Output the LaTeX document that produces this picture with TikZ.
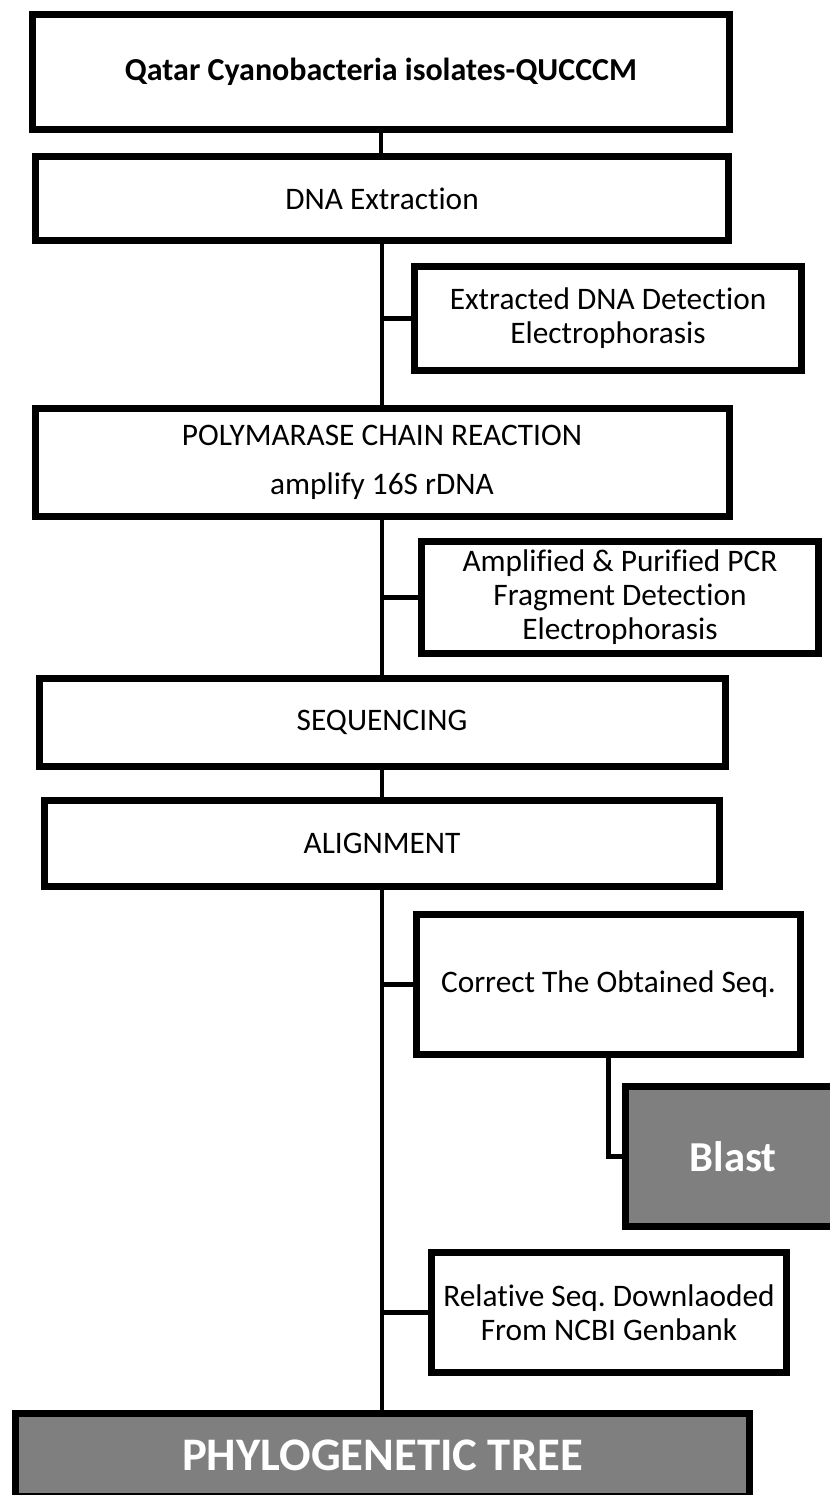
\documentclass[tikz,border=0pt]{standalone}
\usepackage{fontspec}
\setmainfont[Ligatures={NoCommon}]{Carlito}
\usepackage{tikz}
\usetikzlibrary{positioning,shadows,backgrounds}
\definecolor{boxgray}{HTML}{7F7F7F}
\frenchspacing

\begin{document}
\begin{tikzpicture}[
                    x=0.75pt, y=-0.75pt,
                    stepbox/.style = {draw, line width=5.25pt, fill=white, align=center, inner sep=0pt,
                                      font=\fontsize{23.5}{25.5}\selectfont,
                                      drop shadow={shadow xshift=1.5pt, shadow yshift=-1.5pt, opacity=0.3}},
                    darkbox/.style = {stepbox, fill=boxgray, text=white, font=\bfseries\fontsize{32}{38}\selectfont},
                    link/.style = {line width=3.4pt, line join=miter}
                ]

                \useasboundingbox (0,0) rectangle (830,1495);
                \clip (0,0) rectangle (830,1495);

                % main steps
                \node[stepbox, font=\bfseries\fontsize{24}{26}\selectfont,
                      minimum width=522.75pt, minimum height=86.25pt] (qatar) at (381,72) {Qatar Cyanobacteria isolates-QUCCCM};
                \node[stepbox, minimum width=519.75pt, minimum height=63pt] (dna) at (382,198.5) {DNA Extraction};
                \node[stepbox, minimum width=520.5pt, minimum height=81pt] (pcr) at (382,462.5) {POLYMARASE CHAIN REACTION\\[11pt] amplify 16S rDNA};
                \node[stepbox, minimum width=514.5pt, minimum height=66pt] (seq) at (382,722.5) {SEQUENCING};
                \node[stepbox, minimum width=506.25pt, minimum height=64.5pt] (align) at (382,843.5) {ALIGNMENT};
                \node[darkbox, font=\bfseries\fontsize{35}{40}\selectfont,
                      minimum width=550.5pt, minimum height=62.25pt] (phylo) at (382.5,1455) {PHYLOGENETIC TREE};

                % side steps
                \node[stepbox, minimum width=290.25pt, minimum height=78pt] (detect) at (608,318.5) {Extracted DNA Detection\\Electrophorasis};
                \node[stepbox, minimum width=297.75pt, minimum height=84pt] (amp) at (620,597.5) {Amplified \& Purified PCR\\Fragment Detection\\Electrophorasis};
                \node[stepbox, minimum width=288pt, minimum height=105pt] (correct) at (608.5,984.5) {Correct The Obtained Seq.};
                \node[darkbox, minimum width=161.25pt, minimum height=105pt] (blast) at (733,1156.5) {Blast};
                \node[stepbox, minimum width=266.25pt, minimum height=90pt] (rel) at (609,1312.5) {Relative Seq. Downlaoded\\From NCBI Genbank};

                \begin{scope}[on background layer]
                    \draw[link] (qatar.south) -- (qatar.south |- dna.north);
                    \draw[link] (dna.south) -- (dna.south |- pcr.north);
                    \draw[link] (detect.west) -- (detect.west -| dna.south);
                    \draw[link] (pcr.south) -- (pcr.south |- seq.north);
                    \draw[link] (amp.west) -- (amp.west -| pcr.south);
                    \draw[link] (seq.south) -- (seq.south |- align.north);
                    \draw[link] (align.south) -- (align.south |- phylo.north);
                    \draw[link] (correct.west) -- (correct.west -| align.south);
                    \draw[link] (rel.west) -- (rel.west -| align.south);
                    \draw[link] (correct.south) |- (blast.west);
                \end{scope}

            \end{tikzpicture}
\end{document}
